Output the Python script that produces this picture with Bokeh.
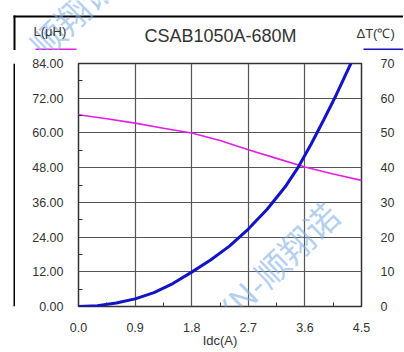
from bokeh.plotting import figure
from bokeh.layouts import column, row
from bokeh.models import (Range1d, LinearAxis, FixedTicker, NumeralTickFormatter,
                          Label)
from bokeh.embed import file_html
from bokeh.resources import INLINE

# ---- data ----
idc_L = [0.0, 0.45, 0.9, 1.35, 1.8, 2.25, 2.7, 3.15, 3.6, 4.05, 4.5]
inductance = [66.3, 64.9, 63.4, 61.6, 60.0, 57.4, 54.2, 51.2, 48.2, 45.8, 43.6]

idc_T = [0.0, 0.3, 0.6, 0.9, 1.2, 1.5, 1.8, 2.1, 2.4, 2.7, 3.0, 3.3, 3.5, 3.7, 3.9, 4.1, 4.33, 4.5]
delta_T = [0.0, 0.25, 1.0, 2.2, 4.0, 6.6, 9.9, 13.4, 17.4, 22.3, 28.0, 34.8, 40.3, 46.8, 53.8, 61.0, 70.0, 76.0]

x_ticks = [0.0, 0.9, 1.8, 2.7, 3.6, 4.5]
L_ticks = [0, 12, 24, 36, 48, 60, 72, 84]
T_ticks = [0, 10, 20, 30, 40, 50, 60, 70]

title_text = "CSAB1050A-680M"
left_name = "L(μH)"
right_name = "ΔT(℃)"
x_name = "Idc(A)"
watermark = "SXN-顺翔诺"

MAGENTA = "#e41ee4"
BLUE = "#1212c8"
GRID = "#555555"
TXT = "#333333"
WM = "#7fb0e6"

HW, HH = 403, 50      # header size in px
SW, SH = 15, 301      # left strip size in px


def wm_label(x, y):
    return Label(x=x, y=y, x_units="screen", y_units="screen", text=watermark,
                 angle=0.77, text_font="Noto Sans CJK SC", text_font_size="34px",
                 text_color=WM, text_alpha=0.6, text_align="left", text_baseline="middle")


def pixel_canvas(w, h):
    f = figure(width=w, height=h, x_range=Range1d(0, w), y_range=Range1d(0, h),
               x_axis_type=None, y_axis_type=None, min_border=0,
               output_backend="svg", toolbar_location=None)
    f.outline_line_color = None
    f.xgrid.visible = False
    f.ygrid.visible = False
    f.background_fill_color = "white"
    f.border_fill_color = "white"
    return f


# ---- header strip (title and axis names) ----
header = pixel_canvas(HW, HH)
header.add_layout(wm_label(-20, -52.6))
header.add_layout(Label(x=220, y=14.5, x_units="screen", y_units="screen", text=title_text,
                        text_font="Liberation Sans", text_font_size="18px", text_color=TXT,
                        text_align="center", text_baseline="middle"))
header.add_layout(Label(x=33, y=19, x_units="screen", y_units="screen", text=left_name,
                        text_font="Liberation Sans", text_font_size="13px", text_color=TXT,
                        text_align="left", text_baseline="middle"))
header.add_layout(Label(x=356, y=17, x_units="screen", y_units="screen", text=right_name,
                        text_font="Liberation Sans", text_font_size="13px", text_color=TXT,
                        text_align="left", text_baseline="middle"))
# decorations: name underlines and the outer frame corner
header.quad(left=[35], right=[76], top=[2], bottom=[0], fill_color=MAGENTA, line_color=None)
header.quad(left=[363], right=[403], top=[2], bottom=[0], fill_color=BLUE, line_color=None)
header.quad(left=[13], right=[403], top=[35], bottom=[33], fill_color="black", line_color=None)
header.quad(left=[13], right=[15], top=[35], bottom=[0], fill_color="black", line_color=None)

# ---- left strip carrying the outer frame line ----
strip = pixel_canvas(SW, SH)
strip.add_layout(wm_label(-20, 248.4))
strip.quad(left=[13], right=[15], top=[SH], bottom=[0], fill_color="black", line_color=None)

# ---- main chart ----
p = figure(frame_width=283, frame_height=243,
           min_border_left=63, min_border_right=42, min_border_top=13, min_border_bottom=45,
           x_range=Range1d(0, 4.5), y_range=Range1d(0, 84),
           output_backend="svg", toolbar_location=None)
p.background_fill_color = "white"
p.border_fill_color = "white"
p.outline_line_color = "#333333"
p.outline_line_width = 1.5

x_minor = [(a + b) / 2 for a, b in zip(x_ticks[:-1], x_ticks[1:])]
L_minor = [(a + b) / 2 for a, b in zip(L_ticks[:-1], L_ticks[1:])]

xt = FixedTicker(ticks=x_ticks, minor_ticks=x_minor)
yt = FixedTicker(ticks=L_ticks, minor_ticks=L_minor)
p.xaxis.ticker = xt
p.yaxis.ticker = yt
p.xaxis.formatter = NumeralTickFormatter(format="0.0")
p.yaxis.formatter = NumeralTickFormatter(format="0.00")

p.extra_y_ranges = {"dT": Range1d(0, 70)}
rax = LinearAxis(y_range_name="dT", ticker=FixedTicker(ticks=T_ticks, minor_ticks=[]),
                 formatter=NumeralTickFormatter(format="0"))
p.add_layout(rax, "right")

for ax in [p.xaxis[0], p.yaxis[0], rax]:
    ax.axis_line_color = None
    ax.major_tick_in = 0
    ax.major_tick_out = 0
    ax.minor_tick_in = 4
    ax.minor_tick_out = 0
    ax.minor_tick_line_color = "#333333"
    ax.major_label_text_font = "Liberation Sans"
    ax.major_label_text_font_size = "12.5px"
    ax.major_label_text_color = TXT
rax.minor_tick_in = 0
p.yaxis.major_label_standoff = 15
rax.major_label_standoff = 19
p.xaxis.major_label_standoff = 16
p.xaxis.axis_label = x_name
p.xaxis.axis_label_text_font = "Liberation Sans"
p.xaxis.axis_label_text_font_size = "13px"
p.xaxis.axis_label_text_font_style = "normal"
p.xaxis.axis_label_text_color = TXT
p.xaxis.axis_label_standoff = -2

p.xgrid.ticker = xt
p.ygrid.ticker = yt
for g in [p.xgrid[0], p.ygrid[0]]:
    g.grid_line_color = GRID
    g.grid_line_width = 1.2

p.line(idc_L, inductance, line_color=MAGENTA, line_width=1.6)
p.line(idc_T, delta_T, line_color=BLUE, line_width=3, y_range_name="dT")

p.add_layout(wm_label(126, -26))

layout = column(header, row(strip, p, spacing=0), spacing=0)

open("out.html", "w").write(file_html(layout, INLINE))
